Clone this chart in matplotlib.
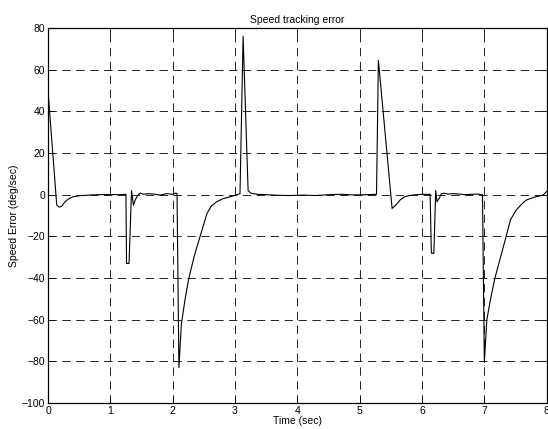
import numpy as np
import matplotlib
matplotlib.use('Agg')
import matplotlib.pyplot as plt

plt.rcParams['font.family'] = ['Liberation Sans', 'DejaVu Sans']
plt.rcParams['lines.scale_dashes'] = False

# speed tracking error
time = [0.00, 0.14, 0.18, 0.22, 0.27, 0.33, 0.40, 0.50, 0.65, 0.80, 1.00, 1.15, 1.25,
        1.26, 1.30, 1.34, 1.37, 1.40, 1.44, 1.48, 1.53, 1.60, 1.70, 1.80, 1.90, 2.00, 2.05, 2.07,
        2.10, 2.14, 2.20, 2.26, 2.35, 2.44, 2.50, 2.55, 2.62, 2.70, 2.80, 2.92, 3.00, 3.08,
        3.13, 3.21, 3.25, 3.35, 3.50, 3.70, 3.90, 4.10, 4.30, 4.50, 4.70, 4.90, 5.10, 5.27,
        5.30, 5.52, 5.58, 5.65, 5.72, 5.80, 5.90, 6.00, 6.10, 6.13,
        6.15, 6.19, 6.22, 6.24, 6.28, 6.31, 6.36, 6.42, 6.50, 6.60, 6.70, 6.80, 6.90, 6.95, 6.97,
        7.00, 7.04, 7.10, 7.17, 7.26, 7.35, 7.42, 7.51, 7.60, 7.67, 7.80, 7.94, 8.00]
error = [50.0, -5.0, -6.0, -5.5, -3.5, -2.0, -1.0, -0.5, -0.2, 0.0, 0.1, 0.0, 0.2,
         -33.0, -33.0, 2.0, -5.0, -2.5, -0.3, 0.8, 0.2, 0.5, 0.3, -0.2, 0.5, 0.2, 0.8, 0.5,
         -83.0, -62.0, -50.0, -40.0, -29.0, -20.0, -14.0, -9.0, -5.5, -3.5, -2.0, -1.0, -0.3, 0.5,
         76.0, 2.0, 0.8, 0.2, 0.0, -0.3, -0.4, -0.2, -0.4, 0.0, 0.2, -0.1, 0.0, 0.2,
         64.5, -6.6, -5.0, -2.5, -1.0, -0.4, 0.0, 0.2, 0.1, 0.3,
         -28.0, -28.2, 2.0, -3.4, -1.5, 0.5, 0.7, 0.3, 0.5, 0.3, 0.0, 0.2, 0.3, 0.0, 0.0,
         -80.5, -60.0, -50.0, -40.0, -30.0, -20.0, -12.0, -7.4, -4.5, -2.6, -1.2, -0.2, 1.5]

fig = plt.figure(figsize=(5.48, 4.29), dpi=100)
ax = fig.add_axes([0.0876, 0.0606, 0.910, 0.874])

ax.plot(time, error, color='black', linewidth=0.8)

ax.set_xlim(0, 8)
ax.set_ylim(-100, 80)
ax.set_xticks(np.arange(0, 9, 1))
ax.set_yticks(np.arange(-100, 81, 20))
ax.grid(True, color='black', linestyle=(0, (6, 4)), linewidth=0.6)
ax.tick_params(direction='in', length=4, width=0.6, labelsize=7.5, top=True, right=True, pad=2)
for s in ax.spines.values():
    s.set_linewidth(0.9)

ax.set_title('Speed tracking error', fontsize=7.5, pad=4)
ax.set_xlabel('Time (sec)', fontsize=7.5, labelpad=0)
ax.set_ylabel('Speed Error (deg/sec)', fontsize=7.5, labelpad=2)

fig.savefig('out.png', dpi=100)
